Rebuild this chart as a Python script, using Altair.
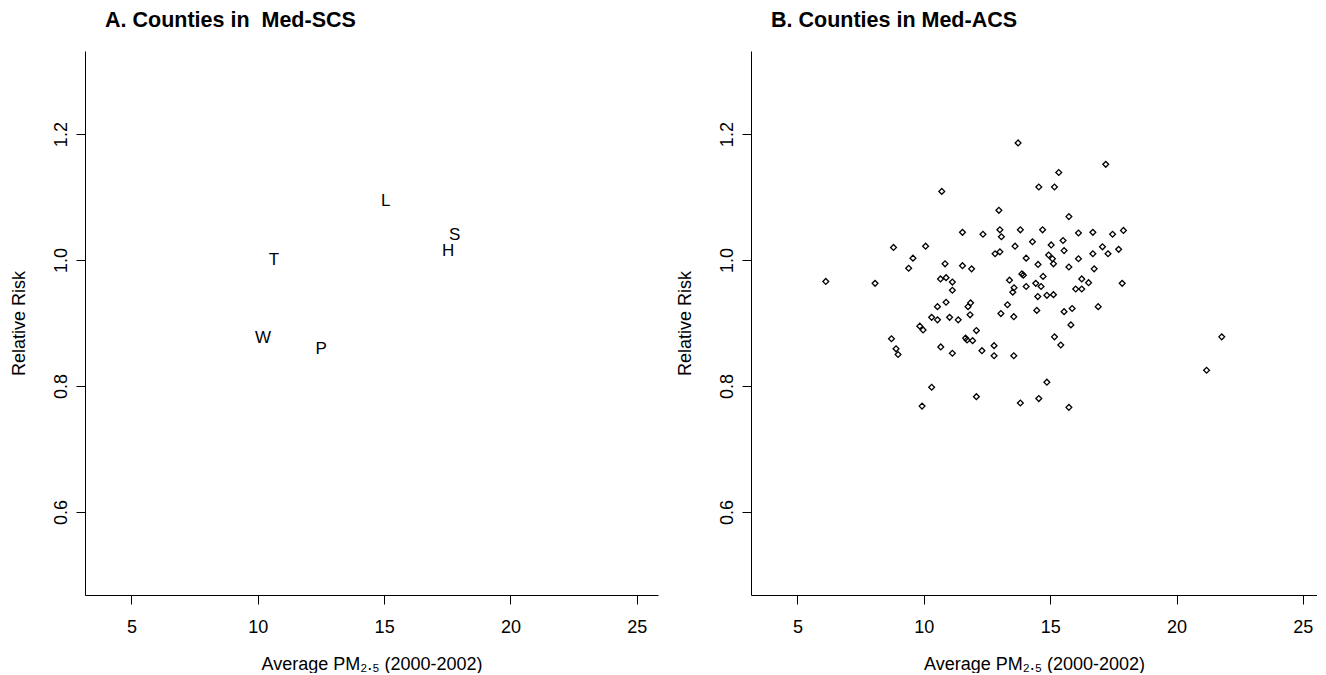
import altair as alt
import pandas as pd

FONT = "Liberation Sans"

# ---------------- Panel A: counties in Med-SCS (letters) ----------------
a_labels = ["L", "S", "H", "T", "W", "P"]
a_pm = [15.06, 17.79, 17.53, 10.64, 10.21, 12.51]
a_rr = [1.094, 1.039, 1.015, 1.000, 0.876, 0.859]

# ---------------- Panel B: counties in Med-ACS (diamonds) ----------------
b_pm = [
    13.73, 17.20, 15.34, 14.55, 15.17, 10.71, 12.97, 15.74, 11.53, 12.34,
    13.01, 13.07, 13.82, 14.70, 16.12, 16.69, 17.47, 17.90, 8.80, 10.07,
    9.57, 9.40, 10.84, 11.53, 11.89, 12.82, 13.01, 13.61, 14.30, 14.05,
    14.52, 13.88, 13.94, 14.72, 15.04, 15.51, 17.07, 15.55, 17.29, 17.71,
    14.94, 15.09, 15.13, 16.12, 16.69, 15.74, 16.74, 6.12, 8.07, 10.66,
    10.88, 11.13, 11.13, 10.88, 10.54, 11.85, 11.75, 11.83, 10.31, 10.54,
    11.02, 11.36, 9.84, 9.97, 12.08, 8.72, 11.65, 11.71, 11.93, 8.90,
    8.98, 10.67, 11.13, 10.31, 12.08, 13.39, 13.57, 13.52, 14.05, 14.43,
    14.64, 16.25, 16.52, 16.01, 16.25, 17.85, 14.51, 14.87, 15.13, 13.31,
    13.05, 13.56, 14.47, 15.55, 15.87, 16.90, 15.82, 15.17, 15.42, 12.78,
    12.30, 12.78, 13.56, 14.87, 14.55, 21.79, 21.19, 9.93, 13.82, 15.74,
]
b_rr = [
    1.186, 1.152, 1.139, 1.116, 1.116, 1.109, 1.079, 1.069, 1.044, 1.041,
    1.048, 1.037, 1.048, 1.048, 1.043, 1.044, 1.041, 1.047, 1.020, 1.022,
    1.003, 0.987, 0.994, 0.991, 0.986, 1.010, 1.013, 1.022, 1.029, 1.003,
    0.993, 0.978, 0.976, 0.974, 1.024, 1.031, 1.021, 1.015, 1.010, 1.017,
    1.008, 1.002, 0.994, 1.002, 1.010, 0.989, 0.986, 0.966, 0.963, 0.970,
    0.972, 0.965, 0.952, 0.933, 0.926, 0.932, 0.926, 0.913, 0.909, 0.905,
    0.909, 0.905, 0.895, 0.889, 0.888, 0.875, 0.876, 0.873, 0.872, 0.859,
    0.850, 0.862, 0.852, 0.798, 0.783, 0.968, 0.956, 0.949, 0.958, 0.963,
    0.958, 0.970, 0.964, 0.954, 0.954, 0.963, 0.942, 0.944, 0.945, 0.929,
    0.915, 0.910, 0.920, 0.918, 0.923, 0.926, 0.897, 0.878, 0.865, 0.864,
    0.856, 0.848, 0.848, 0.806, 0.780, 0.878, 0.825, 0.768, 0.773, 0.766,
]

x_ticks = [5, 10, 15, 20, 25]
y_ticks = [0.6, 0.8, 1.0, 1.2]
x_domain_a = [3.16, 25.84]
x_domain_b = [3.16, 25.56]
y_domain = [0.468, 1.332]

x_title = "Average PM\u2082.\u2085 (2000-2002)"
y_title = "Relative Risk"
title_a = "A. Counties in\u00a0 Med-SCS"
title_b = "B. Counties in Med-ACS"

WA, WB, H = 573, 566, 544
LBL = 18

df_a = pd.DataFrame({"label": a_labels, "pm": a_pm, "rr": a_rr})
df_b = pd.DataFrame({"pm": b_pm, "rr": b_rr})


def x_enc(domain):
    return alt.X(
        "pm:Q",
        scale=alt.Scale(domain=domain, nice=False, zero=False),
        axis=alt.Axis(
            values=x_ticks, title=x_title, grid=False, format="d",
            domainColor="black", domainWidth=1, tickColor="black", tickWidth=1,
            tickSize=9, labelFont=FONT, labelFontSize=LBL, labelColor="black",
            labelPadding=14.5, labelFlush=False, labelOverlap=False,
            titleFont=FONT, titleFontSize=LBL, titleFontWeight="normal",
            titleColor="black", titlePadding=18.5,
        ),
    )


def y_enc():
    return alt.Y(
        "rr:Q",
        scale=alt.Scale(domain=y_domain, nice=False, zero=False),
        axis=alt.Axis(
            values=y_ticks, title=y_title, grid=False, format=".1f",
            domainColor="black", domainWidth=1, tickColor="black", tickWidth=1,
            tickSize=9, labelFont=FONT, labelFontSize=LBL, labelColor="black",
            labelAngle=270, labelAlign="center", labelBaseline="alphabetic",
            labelPadding=10, labelFlush=False, labelOverlap=False,
            titleFont=FONT, titleFontSize=LBL, titleFontWeight="normal",
            titleColor="black", titlePadding=23.5,
        ),
    )


def ttl(text):
    return alt.TitleParams(
        text=text, anchor="start", frame="group", dx=20, offset=2.5,
        font=FONT, fontSize=21.5, fontWeight="bold", color="black",
        baseline="alphabetic",
    )


panel_a = (
    alt.Chart(df_a, title=ttl(title_a))
    .mark_text(font=FONT, fontSize=17, color="black", align="center", baseline="middle")
    .encode(x=x_enc(x_domain_a), y=y_enc(), text="label:N")
    .properties(width=WA, height=H)
)

panel_b = (
    alt.Chart(df_b, title=ttl(title_b))
    .mark_point(shape="diamond", filled=False, color="black", size=34, strokeWidth=1.3, opacity=1)
    .encode(x=x_enc(x_domain_b), y=y_enc())
    .properties(width=WB, height=H)
)

chart = (
    alt.hconcat(panel_a, panel_b, spacing=93, bounds="flush")
    .properties(padding={"left": 2, "top": 2, "right": 0, "bottom": 0}, background="white")
    .configure_view(stroke=None)
)

chart.save("out.html", embed_options={"renderer": "svg", "actions": False})
